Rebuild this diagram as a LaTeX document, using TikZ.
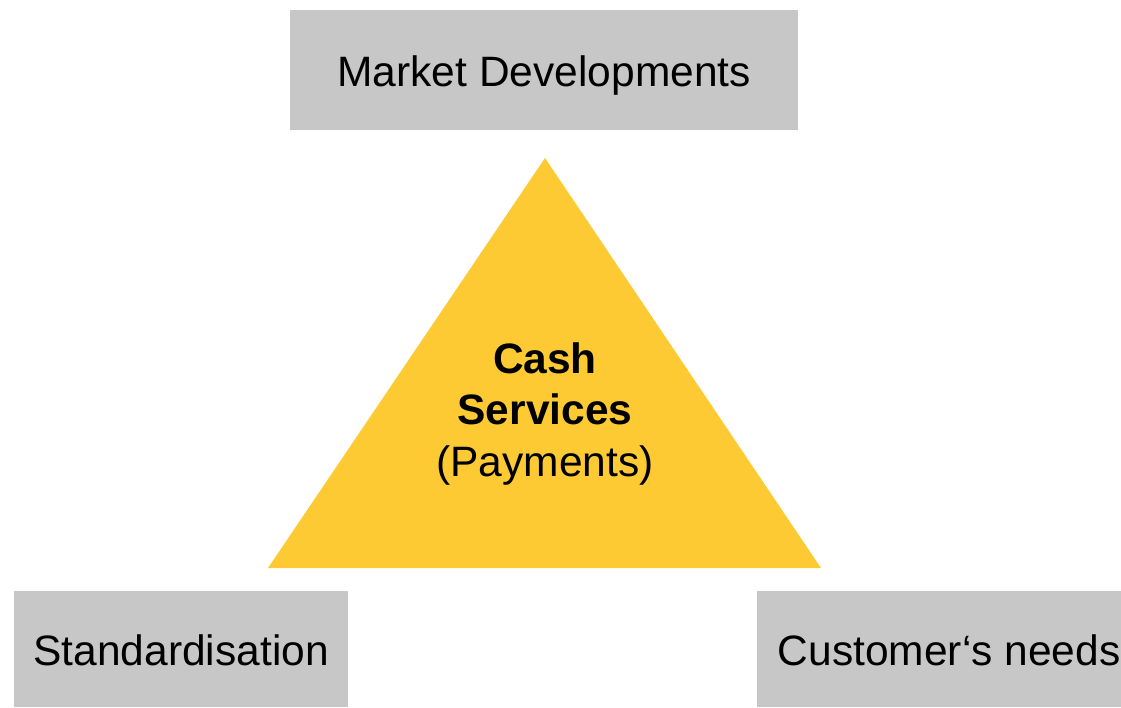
\documentclass[tikz,border=0pt]{standalone}
\usepackage{fontspec}
\setmainfont{Liberation Sans}
\definecolor{boxgrey}{HTML}{C7C7C7}
\definecolor{triyellow}{HTML}{FDCA34}
\begin{document}
\begin{tikzpicture}[x=1pt,y=-1pt,
  greybox/.style={fill=boxgrey,draw=none,inner sep=0pt,text height=33pt,text depth=0pt,font=\fontsize{42.5}{50}\selectfont,text=black}]
\useasboundingbox (0,0) rectangle (1121,707);
\fill[white] (0,0) rectangle (1121,707);
\node[greybox,minimum width=508pt,minimum height=120pt,anchor=north west] (md) at (290,10) {Market Developments};
\node[greybox,minimum width=334pt,minimum height=116pt,anchor=north west] (st) at (14,591) {Standardisation};
\node[greybox,minimum width=364pt,minimum height=116pt,anchor=north west] (cn) at (757,591) {\hspace*{20pt}Customer‘s needs};
\coordinate (apex) at (545,158);
\coordinate (bl) at (268,568);
\coordinate (br) at (821,568);
\fill[triyellow] (apex) -- (bl) -- (br) -- cycle;
\node[align=center,inner sep=0pt,font=\fontsize{42.5}{51.5}\selectfont,anchor=base] (cs) at (545,476) {\textbf{Cash}\\\textbf{Services}\\(Payments)};
\end{tikzpicture}
\end{document}
